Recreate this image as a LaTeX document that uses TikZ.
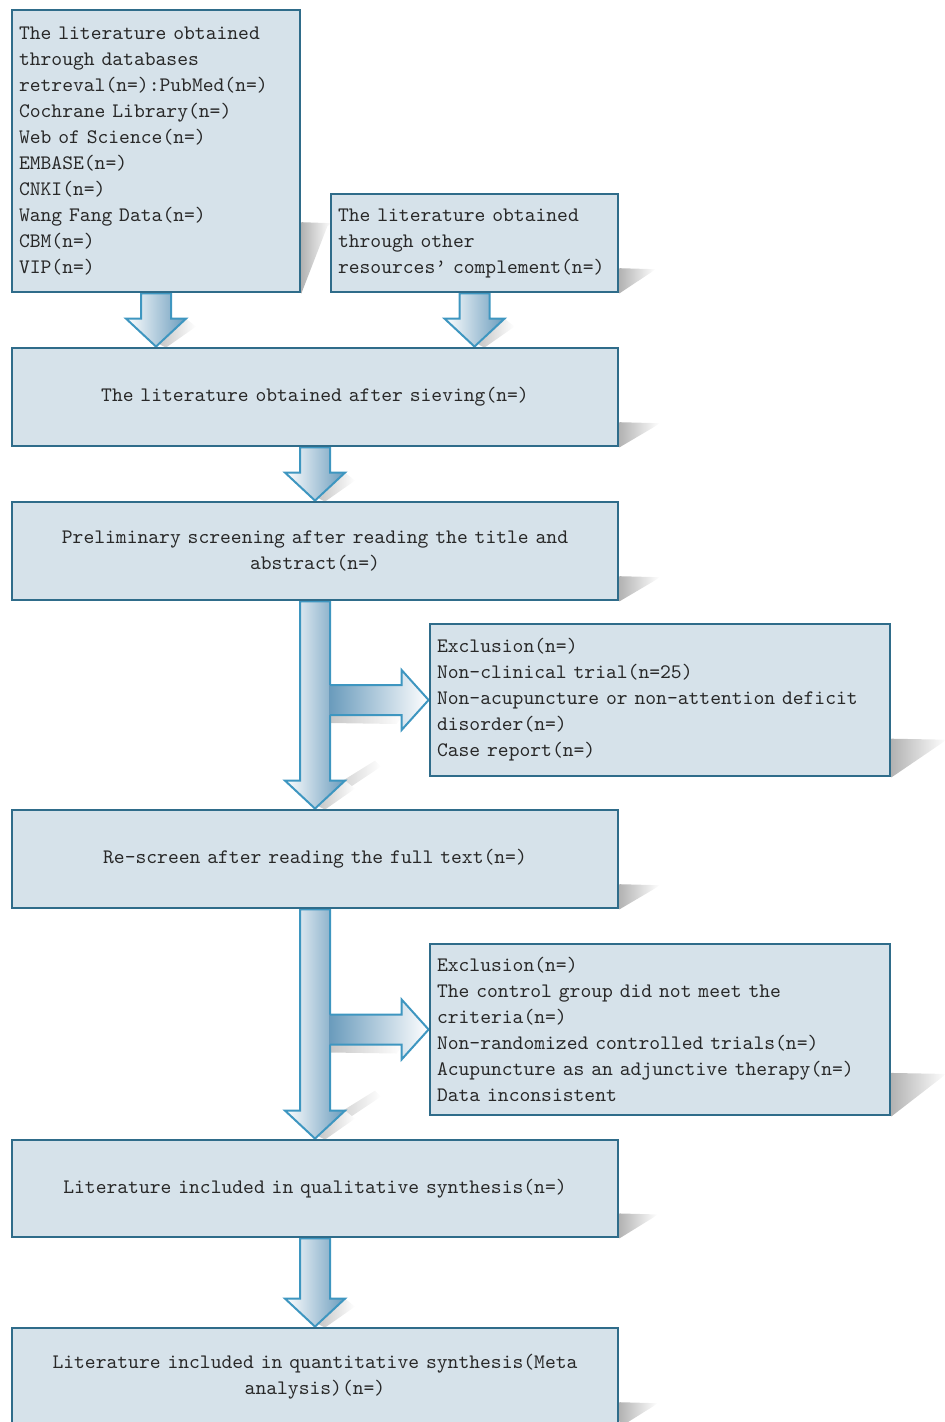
\documentclass[tikz,border=0pt]{standalone}
\usepackage{fontspec}
\usetikzlibrary{calc,backgrounds}
\definecolor{boxfill}{RGB}{214,226,234}
\definecolor{boxline}{RGB}{47,108,138}
\definecolor{arrline}{RGB}{62,150,192}
\definecolor{arrdark}{RGB}{105,155,188}
\definecolor{txt}{RGB}{40,40,40}
\tikzset{
  flowbox/.style={draw=boxline, line width=1.4pt, fill=boxfill, inner xsep=3.5pt, inner ysep=0pt,
    font=\ttfamily\fontsize{10.3}{13}\selectfont, text=txt},
  leftbox/.style={flowbox, align=left},
  centerbox/.style={flowbox, align=center},
  shadowfill/.style={left color=black!30, right color=white, draw=none},
  arrshadow/.style={left color=black!22, right color=white, draw=none},
  arrowdown/.style={draw=arrline, line width=1pt, left color=white, right color=arrdark, line join=miter},
  arrowsidefill/.style={draw=none, left color=arrdark, right color=white},
  arrowsideline/.style={draw=arrline, line width=1pt, line join=miter},
}
% shadow at the lower right of a box: #1 node, #2 width (px)
\newcommand\boxshadow[2]{%
  \path[shadowfill] ($(#1.south east)!0.25!(#1.north east)$) -- ++(#2,1) -- ++(-4,3)
     -- (#1.south east) -- cycle;}
% block arrow pointing down from node #1 to node #2
\newcommand\downblock[2]{%
  \path[arrshadow] let \p1=(#1.south), \p2=(#2.north) in
     (\x1+15pt,\y2+14pt) -- (\x1+20pt,\y2+10pt) -- (\x1+5pt,\y2-0.5pt) -- (\x1+2pt,\y2+1pt) -- cycle;
  \path[arrowdown] let \p1=(#1.south), \p2=(#2.north) in
     (\x1-7.5pt,\y1) -- (\x1+7.5pt,\y1) -- (\x1+7.5pt,\y2+14pt) -- (\x1+15pt,\y2+14pt)
     -- (\x1,\y2) -- (\x1-15pt,\y2+14pt) -- (\x1-7.5pt,\y2+14pt) -- cycle;}
% long block arrow with a side branch: #1 source, #2 target, #3 side box
\newcommand\longblock[3]{%
  \path[arrshadow] let \p1=(#1.south), \p2=(#2.north) in
     (\x1+7.5pt,\y2+10pt) -- (\x1+30pt,\y2+24pt) -- (\x1+33pt,\y2+21pt) -- (\x1+7.5pt,\y2+4pt) -- cycle;
  \path[arrshadow] let \p1=(#1.south), \p2=(#3.west) in
     (\x1+7.5pt,\y2-7.5pt) -- (\x2-13pt,\y2-8pt) -- (\x2-16pt,\y2-12pt) -- (\x1+7.5pt,\y2-11.5pt) -- cycle;
  \downblock{#1}{#2}
  \path[arrowsidefill] let \p1=(#1.south), \p2=(#3.west) in
     (\x1+7pt,\y2+7.5pt) -- (\x2-13.5pt,\y2+7.5pt) -- (\x2-13.5pt,\y2+15pt) -- (\x2,\y2)
     -- (\x2-13.5pt,\y2-15pt) -- (\x2-13.5pt,\y2-7.5pt) -- (\x1+7pt,\y2-7.5pt) -- cycle;
  \draw[arrowsideline] let \p1=(#1.south), \p2=(#3.west) in
     (\x1+7.5pt,\y2+7.5pt) -- (\x2-13.5pt,\y2+7.5pt) -- (\x2-13.5pt,\y2+15pt) -- (\x2,\y2)
     -- (\x2-13.5pt,\y2-15pt) -- (\x2-13.5pt,\y2-7.5pt) -- (\x1+7.5pt,\y2-7.5pt);}
\begin{document}
\begin{tikzpicture}[x=0.5pt,y=-0.5pt]
\clip (0,0) rectangle (944,1422);
\useasboundingbox (0,0) rectangle (944,1422);

\node[leftbox, minimum width=144pt, minimum height=141pt, text width=137pt] (b1) at (156,151)
 {The literature obtained\\through databases\\retreval(n=):PubMed(n=)\\Cochrane Library(n=)\\Web of Science(n=)\\EMBASE(n=)\\CNKI(n=)\\Wang Fang Data(n=)\\CBM(n=)\\VIP(n=)};
\node[leftbox, minimum width=143.5pt, minimum height=49pt, text width=136.5pt] (b2) at (474.5,243)
 {The literature obtained\\through other\\resources’ complement(n=)};
\node[centerbox, minimum width=303pt, minimum height=49pt, text width=296pt] (b3) at (315,397)
 {The literature obtained after sieving(n=)};
\node[centerbox, minimum width=303pt, minimum height=49pt, text width=296pt] (b4) at (315,551)
 {Preliminary screening after reading the title and\\abstract(n=)};
\node[leftbox, minimum width=230pt, minimum height=76pt, text width=223pt] (b5) at (660,700)
 {Exclusion(n=)\\Non-clinical trial(n=25)\\Non-acupuncture or non-attention deficit\\disorder(n=)\\Case report(n=)};
\node[centerbox, minimum width=303pt, minimum height=49pt, text width=296pt] (b6) at (315,859)
 {Re-screen after reading the full text(n=)};
\node[leftbox, minimum width=230pt, minimum height=85.5pt, text width=223pt] (b7) at (660,1029.5)
 {Exclusion(n=)\\The control group did not meet the\\criteria(n=)\\Non-randomized controlled trials(n=)\\Acupuncture as an adjunctive therapy(n=)\\Data inconsistent};
\node[centerbox, minimum width=303pt, minimum height=48.5pt, text width=296pt] (b8) at (315,1188.5)
 {Literature included in qualitative synthesis(n=)};
\node[centerbox, minimum width=303pt, minimum height=49pt, text width=296pt] (b9) at (315,1377)
 {Literature included in quantitative synthesis(Meta\\analysis)(n=)};

\begin{scope}[on background layer]
  \boxshadow{b1}{30}
  \boxshadow{b2}{36}
  \boxshadow{b3}{40}
  \boxshadow{b4}{40}
  \boxshadow{b5}{55}
  \boxshadow{b6}{40}
  \boxshadow{b7}{55}
  \boxshadow{b8}{38}
  \boxshadow{b9}{38}
  \downblock{b1}{b3}
  \downblock{b2}{b3}
  \downblock{b3}{b4}
  \longblock{b4}{b6}{b5}
  \longblock{b6}{b8}{b7}
  \downblock{b8}{b9}
\end{scope}
\end{tikzpicture}
\end{document}
